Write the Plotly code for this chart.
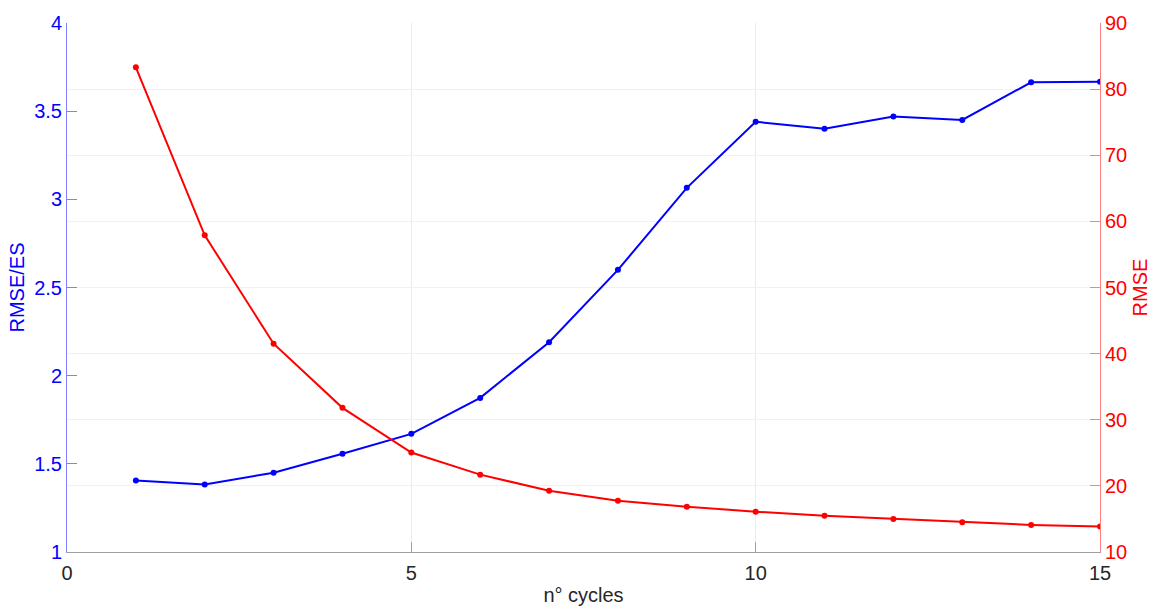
import plotly.graph_objects as go

cycles = list(range(1, 16))
rmse_es = [1.405, 1.383, 1.45, 1.557, 1.67, 1.874, 2.19, 2.60, 3.065, 3.44, 3.40, 3.47, 3.45, 3.664, 3.667]
rmse = [83.3, 57.9, 41.5, 31.8, 25.05, 21.7, 19.26, 17.76, 16.86, 16.1, 15.5, 15.0, 14.5, 14.1, 13.86]

FONT = "Liberation Sans, Arial, sans-serif"
FS = 20

fig = go.Figure()
fig.add_trace(go.Scatter(x=cycles, y=rmse_es, mode="lines+markers", yaxis="y",
                         line=dict(color="#0000ff", width=2), marker=dict(color="#0000ff", size=6),
                         showlegend=False))
fig.add_trace(go.Scatter(x=cycles, y=rmse, mode="lines+markers", yaxis="y2",
                         line=dict(color="#ff0000", width=2), marker=dict(color="#ff0000", size=6),
                         showlegend=False))

fig.update_layout(
    width=1159, height=614,
    margin=dict(l=67, r=59, t=20, b=61),
    paper_bgcolor="white", plot_bgcolor="white",
    font=dict(family=FONT, size=FS),
    xaxis=dict(range=[0, 15], tickvals=[0, 5, 10, 15], showgrid=True, gridcolor="#ebebeb", gridwidth=1,
               zeroline=False, showline=True, linecolor="#a0a0a0", linewidth=1,
               ticks="inside", ticklen=10, tickcolor="#a0a0a0", ticklabelstandoff=3,
               tickfont=dict(color="#262626", size=FS),
               title=dict(text="n° cycles", font=dict(color="#262626", size=FS), standoff=4)),
    yaxis=dict(range=[1, 4], tickvals=[1, 1.5, 2, 2.5, 3, 3.5, 4], ticktext=["1", "1.5", "2", "2.5", "3", "3.5", "4"],
               showgrid=False, zeroline=False, showline=True, linecolor="#8080ff", linewidth=1,
               ticks="inside", ticklen=10, tickcolor="#8080ff",
               tickfont=dict(color="#0000ff", size=FS),
               title=dict(text="RMSE/ES", font=dict(color="#0000ff", size=FS), standoff=4)),
    yaxis2=dict(range=[10, 90], tickvals=[10, 20, 30, 40, 50, 60, 70, 80, 90], overlaying="y", side="right",
                showgrid=True, gridcolor="#ffebeb", gridwidth=1, zeroline=False,
                showline=True, linecolor="#ff8080", linewidth=1,
                ticks="inside", ticklen=10, tickcolor="#ff8080",
                tickfont=dict(color="#ff0000", size=FS),
                title=dict(text="RMSE", font=dict(color="#ff0000", size=FS), standoff=6)),
)

fig.write_html("out.html")
